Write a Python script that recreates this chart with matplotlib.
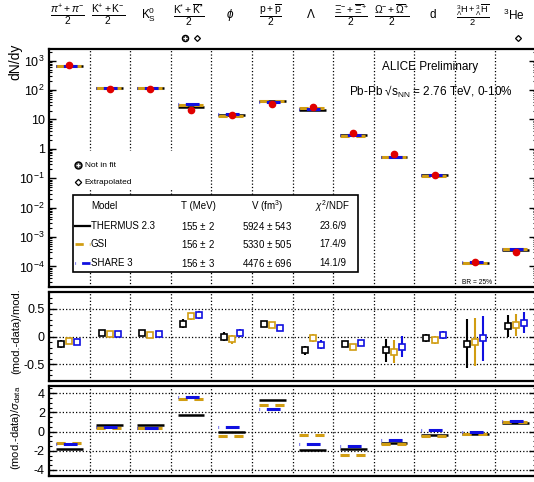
"""
Thermal model fits to ALICE Pb-Pb yields: dN/dy, relative and sigma deviations
"""
import numpy as np
import matplotlib
matplotlib.use("Agg")
import matplotlib.pyplot as plt
from matplotlib.patches import Rectangle
from matplotlib.ticker import FixedLocator, LogLocator, AutoMinorLocator, NullFormatter
from matplotlib.transforms import blended_transform_factory

plt.rcParams['font.family'] = ['Liberation Sans', 'DejaVu Sans']
plt.rcParams['mathtext.fontset'] = 'custom'
plt.rcParams['mathtext.rm'] = 'Liberation Sans'
plt.rcParams['mathtext.it'] = 'Liberation Sans:italic'
plt.rcParams['mathtext.bf'] = 'Liberation Sans:bold'
plt.rcParams['axes.unicode_minus'] = False

##################################################
#-----------------Data----------------------------
##################################################

particles = [r'$\frac{\pi^{+}+\pi^{-}}{2}$',
             r'$\frac{\mathrm{K}^{+}+\mathrm{K}^{-}}{2}$',
             r'$\mathrm{K}^{0}_{\mathrm{S}}$',
             r'$\frac{\mathrm{K}^{*}+\overline{\mathrm{K}}^{*}}{2}$',
             r'$\phi$',
             r'$\frac{\mathrm{p}+\overline{\mathrm{p}}}{2}$',
             r'$\Lambda$',
             r'$\frac{\Xi^{-}+\overline{\Xi}^{+}}{2}$',
             r'$\frac{\Omega^{-}+\overline{\Omega}^{+}}{2}$',
             'd',
             r'$\frac{{}^{3}_{\Lambda}\mathrm{H}+{}^{3}_{\Lambda}\overline{\mathrm{H}}}{2}$',
             r'${}^{3}\mathrm{He}$']
label_size = [10.5, 10.5, 8.5, 10.5, 8.5, 10.5, 8.5, 10.5, 10.5, 8.5, 9.5, 8.5]

# measured yields
data_yield = [733, 109, 110, 20.5, 14.2, 34, 26, 3.34, 0.65, 0.13, 1.45e-4, 3.0e-4]
data_err = [40, 8, 8, 2.5, 1.5, 3, 3, 0.25, 0.08, 0.015, 0.3e-4, 0.5e-4]

# model yields
thermus_yield = [643, 116, 117, 26.5, 14.2, 43.6, 20.8, 2.93, 0.52, 0.126, 1.29e-4, 3.7e-4]
gsi_yield = [679, 113.5, 113.4, 32.0, 13.5, 42.5, 25.2, 2.81, 0.51, 0.123, 1.32e-4, 3.8e-4]
share_yield = [666, 113.5, 114.6, 33.0, 15.1, 40.5, 22.6, 3.01, 0.55, 0.133, 1.40e-4, 4.0e-4]

# (mod.-data)/mod.
thermus_rel = [-0.14, 0.06, 0.06, 0.23, -0.005, 0.22, -0.25, -0.14, -0.25, -0.03, -0.13, 0.19]
gsi_rel = [-0.08, 0.04, 0.03, 0.36, -0.05, 0.20, -0.03, -0.19, -0.27, -0.06, -0.095, 0.21]
share_rel = [-0.10, 0.04, 0.04, 0.38, 0.06, 0.16, -0.15, -0.11, -0.18, 0.02, -0.035, 0.25]
thermus_rel_err = [0.07, 0.05, 0.05, 0.08, 0.08, 0.03, 0.08, 0.05, 0.20, 0.07, 0.44, 0.20]
gsi_rel_err = [0.05, 0.05, 0.05, 0.07, 0.08, 0.03, 0.07, 0.05, 0.20, 0.07, 0.43, 0.20]
share_rel_err = [0.06, 0.05, 0.05, 0.07, 0.07, 0.03, 0.08, 0.05, 0.19, 0.07, 0.40, 0.19]

# (mod.-data)/sigma_data
thermus_sig = [-1.86, 0.67, 0.67, 1.72, 0.0, 3.3, -1.96, -1.8, -1.2, -0.39, -0.28, 0.9]
gsi_sig = [-1.2, 0.35, 0.35, 3.4, -0.45, 2.8, -0.35, -2.4, -1.33, -0.5, -0.3, 1.0]
share_sig = [-1.25, 0.5, 0.4, 3.58, 0.5, 2.35, -1.3, -1.55, -0.9, 0.14, -0.05, 1.15]

models = ['THERMUS 2.3', 'GSI', 'SHARE 3']
model_T = [r'155 $\pm$ 2', r'156 $\pm$ 2', r'156 $\pm$ 3']
model_V = [r'5924 $\pm$ 543', r'5330 $\pm$ 505', r'4476 $\pm$ 696']
model_chi2 = ['23.6/9', '17.4/9', '14.1/9']

not_in_fit = [3]
extrapolated = [3, 11]

##################################################
#-----------------Styles--------------------------
##################################################

black = 'black'
gold = '#d19d12'
blue = '#1010e0'
red = '#e00000'
styles = [dict(color=black, ls='-', lw=1.8),
          dict(color=gold, ls=(0, (3, 2.2)), lw=2.2),
          dict(color=blue, ls=(0.4, (0.6, 2.2, 4.5, 2.2)), lw=2.2)]

x = np.arange(len(particles)) + 0.5
half = 0.33

fig = plt.figure(figsize=(5.34, 4.82), dpi=100)
ax1 = fig.add_axes([49 / 534, 1 - 287 / 482, 487 / 534, 238 / 482])
ax2 = fig.add_axes([49 / 534, 1 - 381 / 482, 487 / 534, 89 / 482])
ax3 = fig.add_axes([49 / 534, 1 - 475.7 / 482, 487 / 534, 90.2 / 482])

for ax in (ax1, ax2, ax3):
    ax.set_xlim(0, len(particles))
    ax.set_xticks([])
    for s in ax.spines.values():
        s.set_linewidth(1.6)
    for d in range(1, len(particles)):
        ax.axvline(d, color='black', ls=':', lw=0.9, zorder=0)
    ax.tick_params(axis='y', which='both', direction='in', left=True, right=True,
                   labelsize=9, pad=3)
    ax.tick_params(axis='y', which='major', length=5, width=1)
    ax.tick_params(axis='y', which='minor', length=2.5, width=0.8)

# ---------------- top panel ----------------
ax1.set_yscale('log')
ax1.set_ylim(2e-5, 2.5e3)
decades = [1e-4, 1e-3, 1e-2, 1e-1, 1, 10, 1e2, 1e3]
ax1.yaxis.set_major_locator(FixedLocator(decades))
ax1.set_yticklabels([r'10$^{-4}$', r'10$^{-3}$', r'10$^{-2}$', r'10$^{-1}$',
                     '1', '10', r'10$^{2}$', r'10$^{3}$'])
ax1.yaxis.set_minor_locator(LogLocator(base=10, subs=np.arange(2, 10), numticks=100))
ax1.yaxis.set_minor_formatter(NullFormatter())

for vals, st in zip([thermus_yield, gsi_yield, share_yield], styles):
    ax1.hlines(vals, x - half, x + half, zorder=3, colors=st['color'],
               linestyles=[st['ls']], linewidth=st['lw'])
ax1.errorbar(x, data_yield, yerr=data_err, fmt='o', color=red, ms=4.5,
             elinewidth=1.2, capsize=0, zorder=5)

# white areas behind the annotations
ax1.add_patch(Rectangle((0.045, 0.41), 0.27, 0.16, transform=ax1.transAxes,
                        facecolor='white', edgecolor='none', zorder=1))
ax1.add_patch(Rectangle((0.049, 0.063), 0.586, 0.324, transform=ax1.transAxes,
                        facecolor='white', edgecolor='black', lw=1.2, zorder=6))

ax1.plot([0.0595], [0.5126], 'o', ms=5, mfc='#555555', mec='black', mew=1,
         transform=ax1.transAxes, zorder=7)
ax1.plot([0.0595], [0.5126], '+', ms=3.5, color='white', mew=0.8,
         transform=ax1.transAxes, zorder=8)
ax1.text(0.073, 0.5126, 'Not in fit', fontsize=6, va='center', transform=ax1.transAxes)
ax1.plot([0.0595], [0.441], 'D', ms=3.2, mfc='white', mec='black', mew=0.9,
         transform=ax1.transAxes, zorder=7)
ax1.text(0.073, 0.441, 'Extrapolated', fontsize=6, va='center', transform=ax1.transAxes)

rows = [0.2576, 0.1807, 0.1021]
ax1.text(0.0862, 0.3416, 'Model', fontsize=7, va='center', transform=ax1.transAxes, zorder=7)
ax1.text(0.306, 0.3416, 'T (MeV)', fontsize=7, ha='center', va='center',
         transform=ax1.transAxes, zorder=7)
ax1.text(0.4476, 0.3416, r'V (fm$^{3}$)', fontsize=7, ha='center', va='center',
         transform=ax1.transAxes, zorder=7)
ax1.text(0.583, 0.3416, r'$\chi^{2}$/NDF', fontsize=7, ha='center', va='center',
         transform=ax1.transAxes, zorder=7)
for yr, name, t, v, c, st in zip(rows, models, model_T, model_V, model_chi2, styles):
    ax1.plot([0.0534, 0.0842], [yr, yr], color=st['color'], ls=st['ls'], lw=st['lw'] * 0.9,
             transform=ax1.transAxes, zorder=7)
    ax1.text(0.0862, yr, name, fontsize=7, va='center', transform=ax1.transAxes, zorder=7)
    ax1.text(0.306, yr, t, fontsize=7, ha='center', va='center', transform=ax1.transAxes, zorder=7)
    ax1.text(0.4476, yr, v, fontsize=7, ha='center', va='center', transform=ax1.transAxes, zorder=7)
    ax1.text(0.583, yr, c, fontsize=7, ha='center', va='center', transform=ax1.transAxes, zorder=7)

ax1.text(0.782, 0.924, 'ALICE Preliminary', fontsize=8.5, ha='center', va='center',
         transform=ax1.transAxes)
ax1.text(0.784, 0.819, u'Pb-Pb \u221as$_{\\mathrm{NN}}$ = 2.76 TeV, 0-10%', fontsize=8.5,
         ha='center', va='center', transform=ax1.transAxes)
ax1.text(0.879, 0.021, 'BR = 25%', fontsize=4.8, ha='center', va='center',
         transform=ax1.transAxes)

# particle labels above the plot
trans = blended_transform_factory(ax1.transData, fig.transFigure)
for xi, lab, fs in zip(x, particles, label_size):
    ax1.text(xi - 0.05, 1 - 15 / 482, lab, fontsize=fs,
             ha='center', va='center', transform=trans)
for i in not_in_fit:
    ax1.plot([x[i] - 0.14], [1 - 38 / 482], 'o', ms=4.5, mfc='#555555', mec='black',
             mew=0.9, transform=trans, clip_on=False)
    ax1.plot([x[i] - 0.14], [1 - 38 / 482], '+', ms=3, color='white', mew=0.7,
             transform=trans, clip_on=False)
for i in extrapolated:
    off = 0.14 if i in not_in_fit else 0.05
    ax1.plot([x[i] + off], [1 - 38 / 482], 'D', ms=3, mfc='white', mec='black', mew=0.9,
             transform=trans, clip_on=False)

# ---------------- middle panel ----------------
ax2.set_ylim(-0.8, 0.8)
ax2.set_yticks([-0.5, 0, 0.5])
ax2.set_yticklabels(['-0.5', '0', '0.5'])
ax2.yaxis.set_minor_locator(AutoMinorLocator(5))
for yv in [-0.5, 0, 0.5]:
    ax2.axhline(yv, color='black', ls=':', lw=0.9, zorder=0)
offsets = [-0.2, 0.0, 0.2]
for vals, errs, off, st in zip([thermus_rel, gsi_rel, share_rel],
                               [thermus_rel_err, gsi_rel_err, share_rel_err],
                               offsets, styles):
    ax2.errorbar(x + off, vals, yerr=errs, fmt='s', color=st['color'], mfc='white',
                 mec=st['color'], ms=4.2, mew=1.2, elinewidth=1.5, capsize=0, zorder=3)

# ---------------- bottom panel ----------------
ax3.set_ylim(-4.6, 4.8)
ax3.set_yticks([-4, -2, 0, 2, 4])
ax3.set_yticklabels(['-4', '-2', '0', '2', '4'])
ax3.yaxis.set_minor_locator(AutoMinorLocator(4))
for yv in [-4, -2, 0, 2, 4]:
    ax3.axhline(yv, color='black', ls=':', lw=0.9, zorder=0)
for vals, st in zip([thermus_sig, gsi_sig, share_sig], styles):
    ax3.hlines(vals, x - half, x + half, zorder=3, colors=st['color'],
               linestyles=[st['ls']], linewidth=st['lw'])

# axis titles
fig.text(15 / 534, 1 - 44 / 482, 'dN/dy', rotation=90, ha='center', va='top', fontsize=10)
fig.text(16 / 534, 1 - 331 / 482, '(mod.-data)/mod.', rotation=90, ha='center',
         va='center', fontsize=8)
fig.text(16 / 534, 1 - 428 / 482, r'(mod.-data)/$\sigma_{\mathrm{data}}$', rotation=90,
         ha='center', va='center', fontsize=8)

fig.savefig('out.png', dpi=100)
